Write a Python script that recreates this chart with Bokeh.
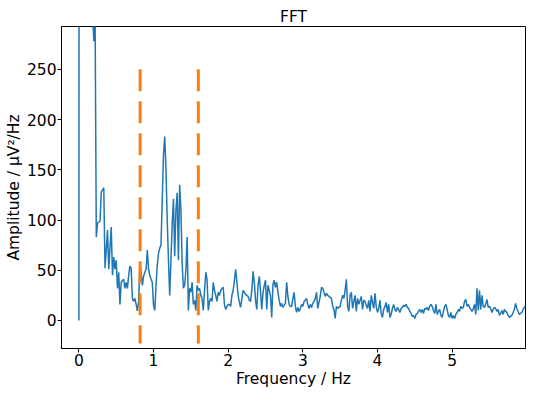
from bokeh.plotting import figure
from bokeh.models import Range1d, FixedTicker
from bokeh.embed import file_html
from bokeh.resources import INLINE

# frequency resolution of the spectrum (Hz per bin)
df_hz = 1 / 60

# amplitude per frequency bin, µV²/Hz, split per Hz
amp_0_1 = [0, 2500, 1800, 1200, 900, 700, 600, 500, 450, 400,
           350, 305, 278, 310, 83, 97, 98, 99, 128, 130,
           132, 52, 70, 90, 51, 72, 93, 45, 63, 51,
           60, 32, 48, 16, 38, 40, 41, 32, 38, 32,
           45, 54, 52, 22, 19, 22, 16, 9.5, 19, 57,
           48, 35, 44, 48, 51, 70, 51, 45, 41, 38]
amp_1_2 = [15, 10, 35, 55, 67, 72, 75, 120, 165, 183,
           150, 100, 60, 25, 60, 96, 121, 64, 110, 127,
           60, 135, 110, 57, 32, 35, 50, 83, 10, 32,
           28, 38, 16, 20, 10, 35, 30, 32, 25, 22,
           10, 30, 48, 41, 10, 19, 22, 19, 38, 30,
           25, 19, 28, 25, 30, 32, 33, 16, 11, 14]
amp_2_3 = [16, 16, 14, 25, 30, 40, 51, 38, 25, 18,
           13, 22, 30, 28, 26, 25, 24, 20, 19, 30,
           49, 38, 20, 11, 35, 44, 29, 11, 28, 35,
           40, 11, 35, 30, 25, 3, 36, 40, 33, 38,
           28, 20, 14, 17, 13, 15, 17, 38, 24, 16,
           14, 14, 22, 28, 14, 8, 13, 9, 12, 16]
amp_3_4 = [14, 19, 20, 22, 16, 12, 16, 13, 17, 19,
           22, 28, 12, 18, 24, 33, 32, 28, 24, 27,
           25, 24, 23, 22, 14, 11, 2, 14, 12, 13,
           14, 20, 25, 22, 30, 41, 14, 9, 25, 28,
           12, 19, 25, 9, 22, 16, 20, 24, 11, 20,
           19, 15, 12, 20, 9, 25, 18, 12, 27, 14]
amp_4_5 = [8, 12, 20, 7, 3, 11, 14, 18, 8, 16,
           3, 6, 12, 16, 11, 9, 13, 11, 8, 12,
           13, 15, 14, 16, 13, 12, 9, 7, 4, 5,
           2, 6, 7, 9, 11, 8, 11, 7, 12, 11,
           13, 10, 14, 16, 14, 10, 7, 16, 6, 9,
           11, 5, 3, 9, 14, 16, 11, 5, 3, 8]
amp_5_6 = [2, 5, 2, 6, 8, 11, 9, 14, 12, 13,
           19, 21, 14, 16, 13, 11, 9, 12, 16, 6,
           32, 10, 30, 11, 25, 14, 13, 16, 21, 13,
           14, 12, 8, 11, 13, 12, 9, 11, 5, 7,
           10, 6, 11, 9, 8, 5, 3, 4, 5, 8,
           11, 17, 12, 9, 6, 7, 8, 11, 13, 14]

amplitude = amp_0_1 + amp_1_2 + amp_2_3 + amp_3_4 + amp_4_5 + amp_5_6
freq = [i * df_hz for i in range(len(amplitude))]

# band limits (dashed markers)
band_freqs = [0.82, 1.6]
band_top = 250
band_bottom = -23

x_ticks = [0, 1, 2, 3, 4, 5]
y_ticks = [0, 50, 100, 150, 200, 250]

FONT = "DejaVu Sans"
FS = "15.5px"

p = figure(width=534, height=396, output_backend="svg", toolbar_location=None,
           x_range=Range1d(-0.233, 5.983), y_range=Range1d(-27.9, 292.6),
           title="FFT", min_border_left=61, min_border_right=9,
           min_border_top=26, min_border_bottom=48)

p.line(freq, amplitude, line_color="#1f77b4", line_width=1.5)
p.segment(x0=band_freqs, y0=[band_top] * len(band_freqs),
          x1=band_freqs, y1=[band_bottom] * len(band_freqs),
          line_color="#ff7f0e", line_width=3, line_dash="22 10")

p.title.align = "center"
p.title.text_font = FONT
p.title.text_font_size = FS
p.title.text_font_style = "normal"
p.title.text_color = "black"
p.title.standoff = 2

p.grid.visible = False
p.outline_line_color = "black"
p.outline_line_alpha = 1
p.outline_line_width = 1

p.xaxis.ticker = FixedTicker(ticks=x_ticks)
p.yaxis.ticker = FixedTicker(ticks=y_ticks)
p.xaxis.axis_label = "Frequency / Hz"
p.yaxis.axis_label = "Amplitude / µV²/Hz"
for ax in (p.xaxis, p.yaxis):
    ax.axis_label_text_font = FONT
    ax.axis_label_text_font_size = FS
    ax.axis_label_text_font_style = "normal"
    ax.axis_label_text_color = "black"
    ax.major_label_text_font = FONT
    ax.major_label_text_font_size = FS
    ax.major_label_text_color = "black"
    ax.minor_tick_line_color = None
    ax.major_tick_in = 0
    ax.major_tick_out = 4
    ax.major_tick_line_color = "black"
    ax.axis_line_color = "black"
    ax.major_label_standoff = 1
    ax.axis_label_standoff = 1

open("out.html", "w").write(file_html(p, INLINE))
